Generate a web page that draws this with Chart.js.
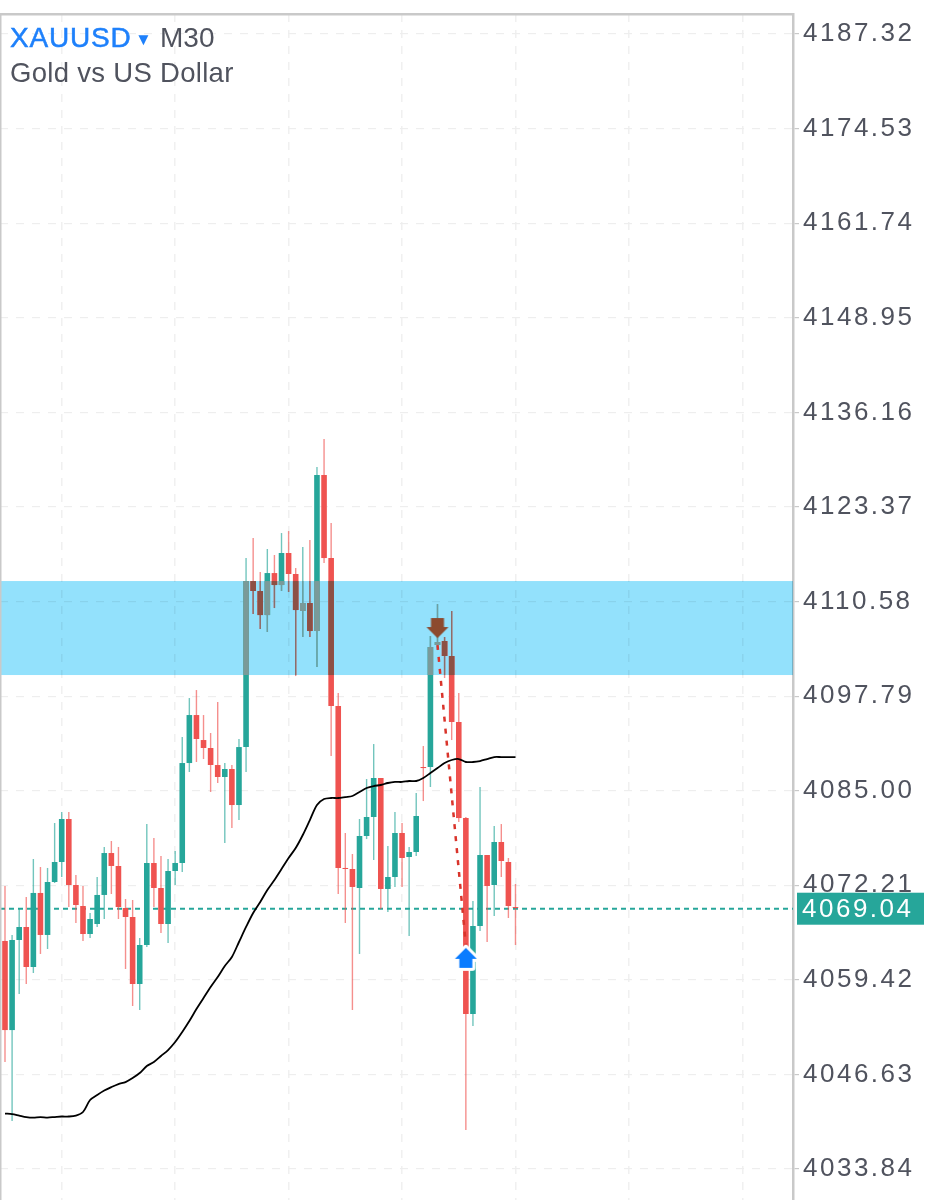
<!DOCTYPE html>
<html>
<head>
<meta charset="utf-8">
<title>XAUUSD M30</title>
<script src="https://cdn.jsdelivr.net/npm/chart.js@4/dist/chart.umd.min.js"></script>
<style>
html, body { margin: 0; padding: 0; background: #fff; }
canvas { display: block; }
</style>
</head>
<body>
<canvas id="priceChart" width="928" height="1200"></canvas>
<script>
var symbolName = 'XAUUSD';
var symbolMark = '▼';
var timeframe = 'M30';
var symbolTitle = 'Gold vs US Dollar';

var yTicks = [4187.32, 4174.53, 4161.74, 4148.95, 4136.16, 4123.37, 4110.58, 4097.79, 4085.00, 4072.21, 4059.42, 4046.63, 4033.84];
var xGridBars = [8, 24, 40, 56, 72, 88, 104];

var opens = [
    4064.68, 4052.63, 4064.81, 4066.57, 4061.16, 4071.17, 4065.49, 4072.65, 4075.36, 4081.17,
    4072.25, 4069.41, 4065.62, 4066.97, 4070.90, 4076.57, 4074.82, 4069.14, 4067.92, 4058.86,
    4064.13, 4075.22, 4071.84, 4066.97, 4074.14, 4075.22, 4088.74, 4095.23, 4091.85, 4090.77,
    4088.47, 4086.85, 4087.93, 4083.06, 4090.90, 4113.35, 4112.00, 4108.75, 4114.43, 4112.81,
    4117.14, 4114.30, 4109.30, 4110.38, 4106.59, 4127.69, 4116.46, 4096.45, 4074.55, 4074.41,
    4071.84, 4078.87, 4081.44, 4086.72, 4071.71, 4073.33, 4079.28, 4076.03, 4076.71, 4088.20,
    4088.20, 4104.70, 4105.24, 4103.21, 4094.29, 4081.30, 4054.80, 4066.70, 4076.30, 4072.25,
    4078.06, 4075.36, 4069.27
];
var closes = [
    4052.63, 4064.81, 4066.57, 4061.16, 4071.17, 4065.49, 4072.65, 4075.36, 4081.17, 4072.25,
    4069.54, 4065.62, 4067.65, 4070.90, 4076.57, 4074.82, 4069.27, 4067.92, 4058.86, 4064.13,
    4075.22, 4071.84, 4066.97, 4074.14, 4075.22, 4088.74, 4095.23, 4091.99, 4090.77, 4088.47,
    4086.85, 4087.93, 4083.06, 4090.90, 4113.35, 4112.00, 4108.75, 4114.43, 4112.81, 4117.14,
    4114.30, 4109.43, 4110.38, 4106.59, 4127.69, 4116.46, 4096.45, 4074.55, 4074.41, 4071.98,
    4078.87, 4081.44, 4086.72, 4071.71, 4073.33, 4079.28, 4075.90, 4076.71, 4081.58, 4088.06,
    4104.43, 4105.10, 4103.21, 4094.29, 4081.30, 4054.80, 4066.70, 4076.30, 4072.11, 4078.06,
    4075.49, 4069.41, 4069.14
];
var highs = [
    4072.11, 4065.49, 4069.00, 4070.63, 4075.76, 4074.68, 4074.55, 4080.63, 4082.12, 4082.12,
    4073.60, 4072.11, 4068.46, 4073.33, 4077.39, 4078.20, 4077.39, 4070.35, 4070.22, 4065.08,
    4080.49, 4078.60, 4076.17, 4075.76, 4076.84, 4092.26, 4097.53, 4098.61, 4095.23, 4092.80,
    4096.99, 4088.74, 4088.47, 4091.99, 4116.46, 4119.17, 4114.57, 4117.68, 4116.87, 4119.84,
    4120.11, 4115.11, 4117.95, 4118.90, 4128.77, 4132.55, 4121.20, 4098.21, 4079.28, 4076.44,
    4081.17, 4086.58, 4091.31, 4086.72, 4077.52, 4082.12, 4080.63, 4077.39, 4084.68, 4091.04,
    4105.92, 4110.24, 4105.78, 4109.30, 4098.21, 4081.44, 4070.08, 4085.50, 4076.30, 4080.22,
    4080.49, 4075.90, 4072.38
];
var lows = [
    4048.31, 4040.33, 4057.50, 4058.86, 4060.35, 4062.92, 4063.59, 4072.52, 4073.33, 4069.27,
    4067.11, 4064.68, 4065.08, 4066.57, 4067.65, 4071.03, 4067.65, 4060.89, 4055.88, 4055.34,
    4063.86, 4069.27, 4065.76, 4064.41, 4072.25, 4074.00, 4087.53, 4088.88, 4089.28, 4084.82,
    4086.04, 4077.93, 4079.95, 4081.03, 4087.53, 4108.89, 4106.86, 4106.46, 4109.70, 4112.00,
    4111.87, 4100.50, 4105.78, 4105.78, 4101.72, 4115.78, 4089.68, 4071.03, 4067.11, 4055.34,
    4062.92, 4078.46, 4075.63, 4069.00, 4068.59, 4071.98, 4071.98, 4065.35, 4076.17, 4083.60,
    4085.50, 4104.02, 4100.24, 4091.85, 4080.76, 4039.11, 4053.18, 4066.02, 4064.54, 4068.05,
    4073.33, 4067.78, 4064.13
];
var movingAverage = [
    4041.34, 4041.27, 4041.07, 4040.87, 4040.80, 4040.87, 4040.80, 4040.87, 4040.94, 4040.94,
    4041.07, 4041.55, 4043.17, 4043.85, 4044.45, 4044.92, 4045.33, 4045.60, 4046.14, 4046.82,
    4047.77, 4048.31, 4049.12, 4049.93, 4051.01, 4052.37, 4053.85, 4055.47, 4056.96, 4058.45,
    4059.80, 4061.29, 4062.51, 4064.54, 4066.57, 4068.46, 4069.95, 4071.57, 4072.92, 4074.41,
    4075.90, 4077.25, 4079.01, 4081.03, 4083.06, 4083.87, 4084.01, 4084.01, 4084.14, 4084.28,
    4084.82, 4085.36, 4085.63, 4085.77, 4086.04, 4086.18, 4086.18, 4086.31, 4086.31, 4086.72,
    4087.39, 4088.06, 4088.74, 4089.15, 4089.28, 4088.88, 4088.88, 4089.01, 4089.28, 4089.55,
    4089.55, 4089.55, 4089.55
];

var currentPrice = 4069.04;
var zoneTop = 4113.35;
var zoneBottom = 4100.64;
var signalBars = [61, 65];
var signalPrices = [4104.70, 4064.13];
var sellArrowBar = 61;
var sellArrowPrice = 4107.00;
var buyArrowBar = 65;
var buyArrowPrice = 4062.40;

var xMin = -0.705;
var xMax = 111.14;
var yMin = 4029.65;
var yMax = 4190.03;

var GREEN = '#26a69a';
var RED = '#ef5350';
var GREEN_WICK = 'rgba(38, 166, 154, 0.65)';
var RED_WICK = 'rgba(239, 83, 80, 0.65)';
var GREEN_ZONE = '#7a9a99';
var RED_ZONE = '#8c5045';
var GREEN_WICK_ZONE = '#6f9da0';
var RED_WICK_ZONE = '#8c6d6a';
var TEXT = '#50535e';
var FRAME = '#c9c9c9';
var FONT = '"Liberation Sans", Arial, sans-serif';

var isUp = function (i) {
    return closes[i] >= opens[i];
};

var buildBars = function (topArr, bottomArr, clip) {
    var out = [];
    for (var i = 0; i < topArr.length; i++) {
        var a = topArr[i];
        var b = bottomArr[i];
        if (clip) {
            var up = Math.min(Math.max(a, b), zoneTop);
            var down = Math.max(Math.min(a, b), zoneBottom);
            if (up <= down) {
                continue;
            }
            a = up;
            b = down;
        }
        out.push({x: i, y: [b, a]});
    }
    return out;
};

var colorsFor = function (green, red) {
    return function (ctx) {
        var raw = ctx.raw;
        return raw && isUp(raw.x) ? green : red;
    };
};

var makeArrow = function (color, pointsUp, halo) {
    var c = document.createElement('canvas');
    c.width = 32;
    c.height = 32;
    var g = c.getContext('2d');
    g.translate(16, 16);
    if (!pointsUp) {
        g.scale(1, -1);
    }
    g.beginPath();
    g.moveTo(0, -10);
    g.lineTo(11, 1);
    g.lineTo(6.5, 1);
    g.lineTo(6.5, 10);
    g.lineTo(-6.5, 10);
    g.lineTo(-6.5, 1);
    g.lineTo(-11, 1);
    g.closePath();
    if (halo) {
        g.lineWidth = 6;
        g.lineJoin = 'round';
        g.strokeStyle = '#fff';
        g.stroke();
    }
    g.fillStyle = color;
    g.fill();
    return c;
};

var decorPlugin = {
    id: 'decor',
    beforeDraw: function (chart) {
        chart.ctx.letterSpacing = '2.5px';
    },
    beforeDatasetsDraw: function (chart) {
        var ctx = chart.ctx;
        var area = chart.chartArea;
        var y = chart.scales.y;
        var top = y.getPixelForValue(zoneTop);
        var bottom = y.getPixelForValue(zoneBottom);
        ctx.save();
        ctx.globalCompositeOperation = 'multiply';
        ctx.fillStyle = '#93e1fc';
        ctx.fillRect(area.left, top, area.right - area.left, bottom - top);
        ctx.restore();
    },
    afterDraw: function (chart) {
        var ctx = chart.ctx;
        var area = chart.chartArea;
        var py = chart.scales.y.getPixelForValue(currentPrice);
        ctx.save();
        // frame top and left, the right side is the y axis border
        ctx.fillStyle = FRAME;
        ctx.fillRect(0, area.top - 1, area.right, 2.5);
        ctx.fillRect(0, area.top, 1.5, area.bottom - area.top);

        // current price tag
        ctx.fillStyle = GREEN;
        ctx.fillRect(797, py - 16, 127, 32);
        ctx.letterSpacing = '2.5px';
        ctx.fillStyle = '#fff';
        ctx.font = '26px ' + FONT;
        ctx.textBaseline = 'middle';
        ctx.textAlign = 'left';
        ctx.fillText(currentPrice.toFixed(2), 802, py + 1);

        // symbol header
        ctx.textBaseline = 'alphabetic';
        ctx.font = '28px ' + FONT;
        ctx.letterSpacing = '0.8px';
        ctx.fillStyle = '#1e80fb';
        ctx.strokeStyle = '#1e80fb';
        ctx.lineWidth = 0.5;
        ctx.fillText(symbolName, 10, 47);
        ctx.strokeText(symbolName, 10, 47);
        ctx.font = '17px ' + FONT;
        ctx.letterSpacing = '0px';
        ctx.fillText(symbolMark, 135, 45);
        ctx.font = '28px ' + FONT;
        ctx.fillStyle = TEXT;
        ctx.fillText(timeframe, 160, 47);
        ctx.font = '27.5px ' + FONT;
        ctx.letterSpacing = '0.3px';
        ctx.fillText(symbolTitle, 10, 82);
        ctx.restore();
    }
};

var barDataset = function (data, color, thickness, order) {
    return {
        type: 'bar',
        data: data,
        grouped: false,
        barThickness: thickness,
        backgroundColor: color,
        borderWidth: 0,
        borderSkipped: false,
        inflateAmount: 0,
        order: order
    };
};

var lineDataset = function (data, color, width, dash, order) {
    return {
        type: 'line',
        data: data,
        borderColor: color,
        borderWidth: width,
        borderDash: dash,
        pointRadius: 0,
        fill: false,
        tension: 0,
        order: order
    };
};

var maPoints = movingAverage.map(function (v, i) {
    return {x: i, y: v};
});
var pricePoints = [{x: xMin, y: currentPrice}, {x: xMax, y: currentPrice}];
var signalPoints = signalBars.map(function (bar, i) {
    return {x: bar, y: signalPrices[i]};
});

var sellArrow = lineDataset([{x: sellArrowBar, y: sellArrowPrice}], '#8c4a2f', 0, [], 1);
sellArrow.showLine = false;
sellArrow.pointStyle = makeArrow('#8c4a2f', false, false);
sellArrow.pointRadius = 16;

var buyArrow = lineDataset([{x: buyArrowBar, y: buyArrowPrice}], '#0a7cff', 0, [], 1);
buyArrow.showLine = false;
buyArrow.pointStyle = makeArrow('#0a7cff', true, true);
buyArrow.pointRadius = 16;

var signalLine = lineDataset(signalPoints, '#d9342b', 2.5, [5, 7], 2);
var maLine = lineDataset(maPoints, '#000', 1.8, [], 3);
maLine.tension = 0.3;

new Chart(document.getElementById('priceChart').getContext('2d'), {
    data: {
        datasets: [
            buyArrow,
            sellArrow,
            signalLine,
            maLine,
            barDataset(buildBars(opens, closes, true), colorsFor(GREEN_ZONE, RED_ZONE), 5.6, 4),
            barDataset(buildBars(highs, lows, true), colorsFor(GREEN_WICK_ZONE, RED_WICK_ZONE), 1.4, 5),
            barDataset(buildBars(opens, closes, false), colorsFor(GREEN, RED), 5.6, 6),
            barDataset(buildBars(highs, lows, false), colorsFor(GREEN_WICK, RED_WICK), 1.4, 7),
            lineDataset(pricePoints, GREEN, 2, [5, 4], 8)
        ]
    },
    options: {
        responsive: false,
        animation: false,
        devicePixelRatio: 1,
        layout: {autoPadding: false, padding: {top: 14}},
        plugins: {legend: {display: false}, tooltip: {enabled: false}},
        scales: {
            x: {
                type: 'linear',
                min: xMin,
                max: xMax,
                offset: false,
                afterBuildTicks: function (scale) {
                    scale.ticks = xGridBars.map(function (v) {
                        return {value: v};
                    });
                },
                afterFit: function (scale) {
                    scale.height = 0;
                },
                ticks: {display: false},
                border: {display: false, dash: [8, 8]},
                grid: {color: '#f0f0f0', lineWidth: 1.5, drawTicks: false, offset: false}
            },
            y: {
                position: 'right',
                min: yMin,
                max: yMax,
                afterBuildTicks: function (scale) {
                    scale.ticks = yTicks.map(function (v) {
                        return {value: v};
                    });
                },
                afterFit: function (scale) {
                    scale.width = 135;
                    scale.paddingTop = 0;
                    scale.paddingBottom = 0;
                },
                ticks: {
                    autoSkip: false,
                    color: TEXT,
                    padding: 4,
                    font: {family: FONT, size: 26},
                    callback: function (v) {
                        return v.toFixed(2);
                    }
                },
                border: {display: true, color: FRAME, width: 2.5, dash: [8, 8]},
                grid: {color: '#eeeeee', lineWidth: 1.2, tickLength: 6, tickColor: FRAME}
            }
        }
    },
    plugins: [decorPlugin]
});
</script>
</body>
</html>
